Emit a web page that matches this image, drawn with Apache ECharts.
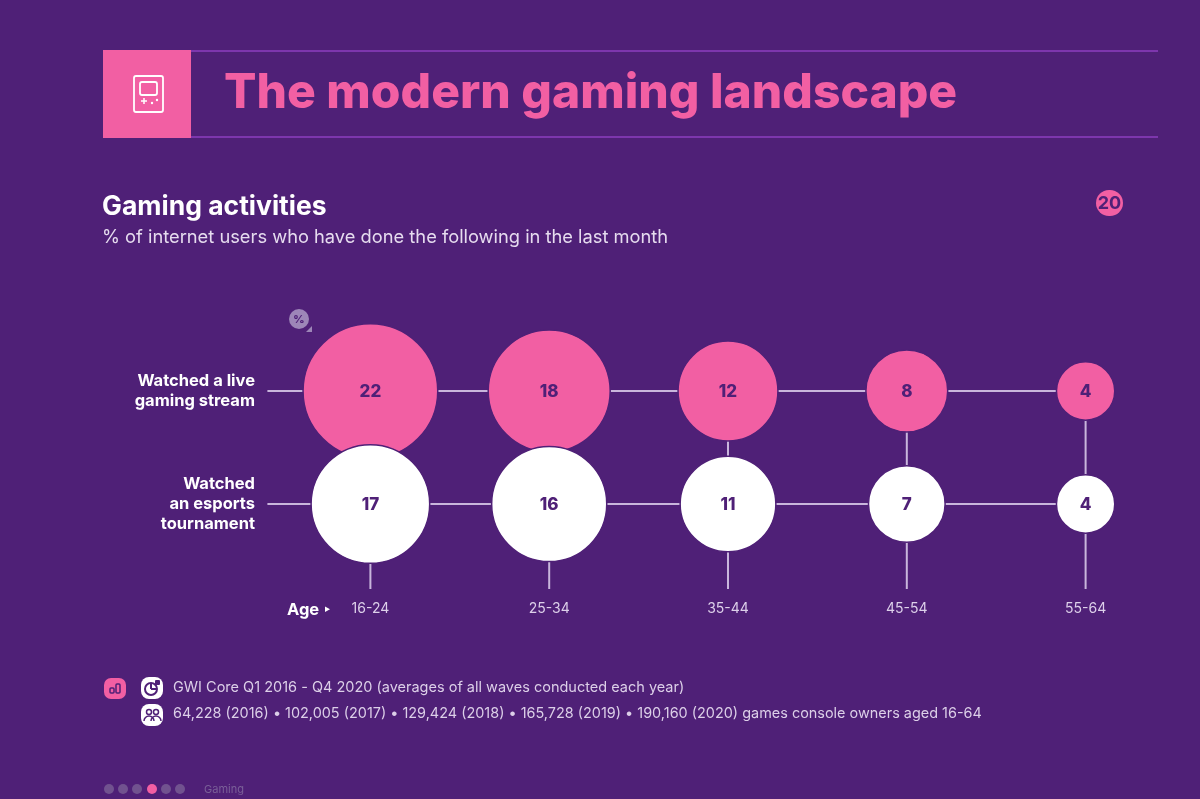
<!DOCTYPE html>
<html><head><meta charset="utf-8">
<style>html,body{margin:0;padding:0;background:#4f2077}#c{width:1200px;height:799px}</style>
<script src="https://cdn.jsdelivr.net/npm/echarts@6/dist/echarts.min.js"></script>
</head><body><div id="c"></div>
<script>
const ages = ['16-24','25-34','35-44','45-54','55-64'];
const activities = ['Watched a live\ngaming stream','Watched\nan esports\ntournament'];
const liveStream = [22,18,12,8,4];
const esports = [17,16,11,7,4];
const title = 'The modern gaming landscape';
const subtitle = 'Gaming activities';
const description = '% of internet users who have done the following in the last month';
const source = 'GWI Core Q1 2016 - Q4 2020 (averages of all waves conducted each year)';
const sample = '64,228 (2016) • 102,005 (2017) • 129,424 (2018) • 165,728 (2019) • 190,160 (2020) games console owners aged 16-64';

const BG='#4f2077', PINK='#f25fa3', LINE='#c9b6dc', FONT='Inter';
const GAP=1.5;
const size = v => Math.sqrt(v)*28.4+GAP;
const pts = arr => arr.map((v,i)=>({value:[ages[i],arr===liveStream?activities[0]:activities[1],v]}));
const txt=(x,y,text,font,fill,extra)=>({type:'text',x,y,silent:true,style:Object.assign({text,font,fill,textVerticalAlign:'middle'},extra||{})});
const dot=(cx,fill)=>({type:'circle',shape:{cx,cy:789,r:5},style:{fill},silent:true});
const wline=(x1,y1,x2,y2,w)=>({type:'line',shape:{x1,y1,x2,y2},style:{stroke:'#fff',lineWidth:w||1.5},silent:true});
const wrect=(x,y,w,h,r)=>({type:'rect',shape:{x,y,width:w,height:h,r:r||0},style:{fill:'none',stroke:'#fff',lineWidth:1.8},silent:true});
const markLabel={show:true,position:'inside',offset:[0,1],formatter:p=>p.value[2],color:BG,fontFamily:FONT,fontWeight:800,fontSize:17};

const chart = echarts.init(document.getElementById('c'),null,{renderer:'canvas'});
chart.setOption({
  backgroundColor:BG, animation:false,
  grid:{left:281,right:25,top:334.5,height:226},
  xAxis:{type:'category',data:ages,boundaryGap:true,position:'bottom',offset:0,
    axisLine:{show:false},axisTick:{show:false},splitLine:{show:false},
    axisLabel:{color:'#ddd0ea',fontFamily:FONT,fontSize:14,margin:41}},
  yAxis:{type:'category',data:activities,inverse:true,boundaryGap:true,
    axisLine:{show:false},axisTick:{show:false},splitLine:{show:false},
    axisLabel:{color:'#fff',fontFamily:FONT,fontWeight:700,fontSize:16.5,lineHeight:20,align:'right',margin:26,padding:[0,0,4,0]}},
  series:[
    {type:'custom',silent:true,clip:false,z:1,coordinateSystem:'cartesian2d',
      data:ages.map((a,i)=>[a,activities[1]]),
      renderItem:(p,api)=>{
        const i=p.dataIndex, t=api.coord([ages[i],activities[0]]), b=api.coord([ages[i],activities[1]]);
        const ls={stroke:LINE,lineWidth:2};
        const ch=[{type:'line',shape:{x1:t[0],y1:t[1],x2:b[0],y2:b[1]+85},style:ls}];
        if(i===0){
          const e=api.coord([ages[4],activities[0]]);
          ch.push({type:'line',shape:{x1:t[0]-103,y1:t[1],x2:e[0],y2:e[1]},style:ls});
          ch.push({type:'line',shape:{x1:b[0]-103,y1:b[1],x2:e[0],y2:b[1]},style:ls});
        }
        return {type:'group',children:ch};
      }},
    {type:'scatter',name:'Watched a live gaming stream',z:2,data:pts(liveStream),
      symbolSize:d=>size(d[2]),
      itemStyle:{color:PINK,borderColor:BG,borderWidth:GAP,opacity:1},
      label:markLabel},
    {type:'scatter',name:'Watched an esports tournament',z:3,data:pts(esports),
      symbolSize:d=>size(d[2]),
      itemStyle:{color:'#fff',borderColor:BG,borderWidth:GAP,opacity:1},
      label:markLabel}
  ],
  graphic:[
    {type:'line',shape:{x1:191,y1:51,x2:1158,y2:51},style:{stroke:'#7d36ad',lineWidth:2},silent:true},
    {type:'line',shape:{x1:191,y1:137,x2:1158,y2:137},style:{stroke:'#7d36ad',lineWidth:2},silent:true},
    {type:'rect',shape:{x:103,y:50,width:88,height:88},style:{fill:PINK},silent:true},
    wrect(134,76,29,36,2),wrect(140,82,17,13,2),
    wline(141,101,147,101),wline(144,98,144,104),
    {type:'circle',shape:{cx:152,cy:103,r:1.2},style:{fill:'#fff'},silent:true},
    {type:'circle',shape:{cx:157,cy:100,r:1.2},style:{fill:'#fff'},silent:true},
    txt(224,94,title,'800 48px '+FONT,PINK),
    txt(102,207.5,subtitle,'700 26.5px '+FONT,'#fff'),
    txt(102,237.5,description,'400 18.3px '+FONT,'#e6dcef'),
    {type:'rect',shape:{x:1096,y:190,width:27,height:26,r:13},style:{fill:PINK},silent:true},
    txt(1109.5,203.5,'20','700 18px '+FONT,BG,{textAlign:'center'}),
    {type:'circle',shape:{cx:299,cy:319,r:10},style:{fill:'#9d86b8'},silent:true},
    {type:'polygon',shape:{points:[[312,326],[312,332],[306,332]]},style:{fill:'#9d86b8'},silent:true},
    txt(299,319.5,'%','800 11px '+FONT,BG,{textAlign:'center'}),
    txt(287,610,'Age','700 16.5px '+FONT,'#fff'),
    {type:'polygon',shape:{points:[[325,606.5],[325,612],[330,609.2]]},style:{fill:'#fff'},silent:true},
    {type:'rect',shape:{x:104,y:678,width:22,height:21,r:7},style:{fill:PINK},silent:true},
    {type:'rect',shape:{x:110,y:688,width:4,height:5,r:1},style:{fill:'none',stroke:BG,lineWidth:1.5},silent:true},
    {type:'rect',shape:{x:116,y:684,width:4,height:9,r:1},style:{fill:'none',stroke:BG,lineWidth:1.5},silent:true},
    {type:'rect',shape:{x:141,y:677,width:22,height:22,r:8},style:{fill:'#fff'},silent:true},
    {type:'circle',shape:{cx:151,cy:689,r:6},style:{fill:'none',stroke:BG,lineWidth:2},silent:true},
    {type:'line',shape:{x1:151,y1:683,x2:151,y2:689},style:{stroke:BG,lineWidth:2},silent:true},
    {type:'line',shape:{x1:151,y1:689,x2:157,y2:689},style:{stroke:BG,lineWidth:2},silent:true},
    {type:'rect',shape:{x:155,y:680,width:5,height:5,r:1},style:{fill:BG},silent:true},
    {type:'rect',shape:{x:141,y:704,width:22,height:22,r:8},style:{fill:'#fff'},silent:true},
    {type:'circle',shape:{cx:149,cy:712,r:2.5},style:{fill:'none',stroke:BG,lineWidth:1.5},silent:true},
    {type:'circle',shape:{cx:156,cy:712,r:2.5},style:{fill:'none',stroke:BG,lineWidth:1.5},silent:true},
    {type:'arc',shape:{cx:149,cy:721,r:5,startAngle:Math.PI,endAngle:0},style:{fill:'none',stroke:BG,lineWidth:1.5},silent:true},
    {type:'arc',shape:{cx:156,cy:721,r:5,startAngle:Math.PI,endAngle:0},style:{fill:'none',stroke:BG,lineWidth:1.5},silent:true},
    txt(173,688,source,'400 14.5px '+FONT,'#dccfe8'),
    txt(173,714,sample,'400 14.45px '+FONT,'#dccfe8'),
    dot(109,'#71528f'),dot(123,'#71528f'),dot(137,'#71528f'),dot(152,PINK),dot(166,'#71528f'),dot(180,'#71528f'),
    txt(204,790,'Gaming','400 11px '+FONT,'#7a5f98')
  ]
});
</script></body></html>
